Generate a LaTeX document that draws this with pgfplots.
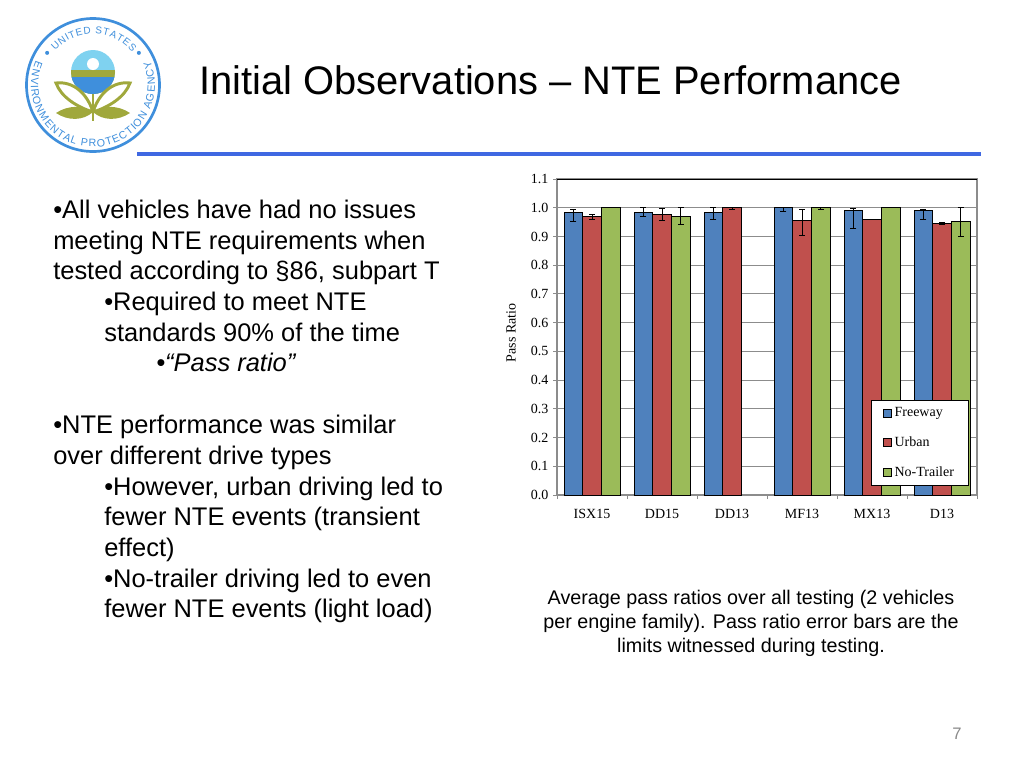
\documentclass[border=0pt]{standalone}
\usepackage{fontspec}
\setmainfont{Liberation Sans}
\newfontfamily\chartfont{Liberation Serif}
\usepackage{pgfplots}
\usepackage{pgfplotstable}
\pgfplotsset{compat=1.18}
\usetikzlibrary{decorations.text}

\definecolor{barblue}{HTML}{4F81BD}
\definecolor{barred}{HTML}{C0504D}
\definecolor{bargreen}{HTML}{9BBB59}
\definecolor{ruleblue}{HTML}{3F68E2}
\definecolor{sealblue}{HTML}{3F8FDC}
\definecolor{sealsky}{HTML}{7FD2F0}
\definecolor{sealolive}{HTML}{A0A83C}
\definecolor{gridgray}{HTML}{8C8C8C}
\definecolor{pagegray}{HTML}{8A8A8A}

% x  value  plus  minus
\pgfplotstableread{
x y up down
0 0.984 0.009 0.031
1 0.984 0.016 0.014
2 0.984 0.016 0.024
3 1.000 0.000 0.014
4 0.991 0.006 0.064
5 0.991 0.002 0.031
}\freeway
\pgfplotstableread{
x y up down
0 0.971 0.007 0.013
1 0.978 0.019 0.023
2 1.000 0.000 0.005
3 0.955 0.038 0.053
4 0.958 0.000 0.000
5 0.944 0.006 0.003
}\urban
\pgfplotstableread{
x y up down
0 1.000 0.000 0.000
1 0.971 0.029 0.030
3 1.000 0.000 0.005
4 1.000 0.000 0.000
5 0.951 0.049 0.052
}\notrailer

\newcommand{\px}[1]{\fontsize{#1}{#1}\selectfont}

\begin{document}
\begin{tikzpicture}[x=0.75pt,y=-0.75pt]
\fill[white] (0,0) rectangle (1024,768);
\useasboundingbox (0,0) rectangle (1024,768);

% seal
\begin{scope}[shift={(93,85)},x=0.75pt,y=0.75pt]
  \fill[white] (0,0) circle (68);
  \draw[sealblue,line width=2pt] (0,0) circle (66.5);
  \begin{scope}
    \clip (0,13) circle (22);
    \fill[sealsky] (-23,-10) rectangle (23,36);
    \fill[sealolive] (-23,-10) rectangle (23,15);
    \fill[sealblue] (-23,-10) rectangle (23,8);
  \end{scope}
  \fill[white] (0,21) circle (6);
  \draw[sealolive,line width=2.2pt] (0,-27) .. controls (-6,-8) and (-20,4) .. (-37,2)
     .. controls (-32,-12) and (-16,-22) .. (0,-27);
  \draw[sealolive,line width=2.2pt] (0,-27) .. controls (6,-8) and (20,4) .. (37,2)
     .. controls (32,-12) and (16,-22) .. (0,-27);
  \fill[sealolive] (-37,-28) .. controls (-25,-20) and (-10,-20) .. (0,-27)
     .. controls (-10,-36) and (-25,-36) .. (-37,-28);
  \fill[sealolive] (37,-28) .. controls (25,-20) and (10,-20) .. (0,-27)
     .. controls (10,-36) and (25,-36) .. (37,-28);
  \draw[sealolive,line width=1.4pt] (0,-9) -- (0,-36);
  \fill[sealblue] (145:56) circle (2);
  \fill[sealblue] (35:56) circle (2);
  \path[decorate,decoration={text along path,text align={fit to path},
      text color=sealblue,
      text={|\px{7.5}|UNITED STATES}}]
    (138:51) arc (138:40:51);
  \path[decorate,decoration={text along path,text align={fit to path},
      text color=sealblue,
      text={|\px{8}|ENVIRONMENTAL PROTECTION AGENCY}}]
    (157:62) arc (157:383:62);
\end{scope}

% heading and rule
\node[anchor=base west,inner sep=0pt] at (199,94) {\px{29.9}Initial Observations – NTE Performance};
\draw[ruleblue,line width=3pt] (137,153.5) -- (981,153.5);

% body text
\begin{scope}[every node/.style={anchor=base west,inner sep=0pt,font=\px{19.1}}]
\node at (53,218) {•All vehicles have had no issues};
\node at (53,249) {meeting NTE requirements when};
\node at (53,279) {tested according to §86, subpart T};
\node at (104,310) {•Required to meet NTE};
\node at (104,341) {standards 90\% of the time};
\node at (156,371) {\itshape •“Pass ratio”};
\node at (53,433) {•NTE performance was similar};
\node at (53,464) {over different drive types};
\node at (104,495) {•However, urban driving led to};
\node at (104,525) {fewer NTE events (transient};
\node at (104,556) {effect)};
\node at (104,587) {•No-trailer driving led to even};
\node at (104,617) {fewer NTE events (light load)};
\end{scope}

% caption
\begin{scope}[every node/.style={anchor=base,inner sep=0pt,font=\px{14.8}}]
\node at (751,604) {Average pass ratios over all testing (2 vehicles};
\node at (751,628) {per engine family). Pass ratio error bars are the};
\node at (751,652) {limits witnessed during testing.};
\end{scope}
\node[anchor=base,inner sep=0pt,text=pagegray,font=\px{12.5}] at (957,739) {7};

\begin{axis}[
    at={(417.75pt,-371.25pt)},
    anchor=south west,
    scale only axis,
    width=315pt,
    height=237pt,
    ybar=0pt,
    bar width=14pt,
    xmin=-0.5, xmax=5.5,
    ymin=0, ymax=1.1,
    xtick={0,1,2,3,4,5},
    xticklabels={ISX15,DD15,DD13,MF13,MX13,D13},
    minor xtick={-0.5,0.5,1.5,2.5,3.5,4.5,5.5},
    ytick={0,0.1,0.2,0.3,0.4,0.5,0.6,0.7,0.8,0.9,1.0,1.1},
    yticklabel style={/pgf/number format/fixed,/pgf/number format/fixed zerofill,/pgf/number format/precision=1},
    /pgf/number format/assume math mode=true,
    tick label style={font=\chartfont\px{10.5}},
    xticklabel style={yshift=-4.5pt},
    ylabel={Pass Ratio},
    every axis y label/.style={at={(axis description cs:-0.1095,0.513)},rotate=90,anchor=center,font=\chartfont\px{10.5}},
    ymajorgrids,
    grid style={gridgray,line width=0.7pt},
    axis line style={gridgray,line width=0.8pt},
    tick align=outside,
    tick style={gridgray,line width=0.7pt},
    major tick length=3pt,
    minor tick length=3pt,
    major x tick style={draw=none},
    xtick pos=bottom,
    ytick pos=left,
    axis on top=false,
    legend cell align=left,
    legend style={
        at={(0.981,0.0285)},anchor=south east,
        draw=black,fill=white,line width=0.6pt,
        font=\chartfont\px{10.5},
        row sep=9.6pt,inner xsep=9pt,inner ysep=3.5pt,
    },
    legend image code/.code={
        \draw[#1,line width=0.4pt] (0pt,-3pt) rectangle (6pt,3pt);
    },
    error bars/error bar style={black,line width=0.7pt},
    error bars/error mark options={rotate=90,mark size=2.2pt,black,line width=0.7pt},
]
\addplot[draw=black,line width=0.6pt,fill=barblue,
    error bars/.cd,y dir=both,y explicit]
    table[x=x,y=y,y error plus=up,y error minus=down] {\freeway};
\addlegendentry{Freeway}
\addplot[draw=black,line width=0.6pt,fill=barred,
    error bars/.cd,y dir=both,y explicit]
    table[x=x,y=y,y error plus=up,y error minus=down] {\urban};
\addlegendentry{Urban}
\addplot[draw=black,line width=0.6pt,fill=bargreen,
    error bars/.cd,y dir=both,y explicit]
    table[x=x,y=y,y error plus=up,y error minus=down] {\notrailer};
\addlegendentry{No-Trailer}
\draw[black,line width=0.8pt] (rel axis cs:0,1) -- (rel axis cs:1,1);
\end{axis}
\end{tikzpicture}
\end{document}
